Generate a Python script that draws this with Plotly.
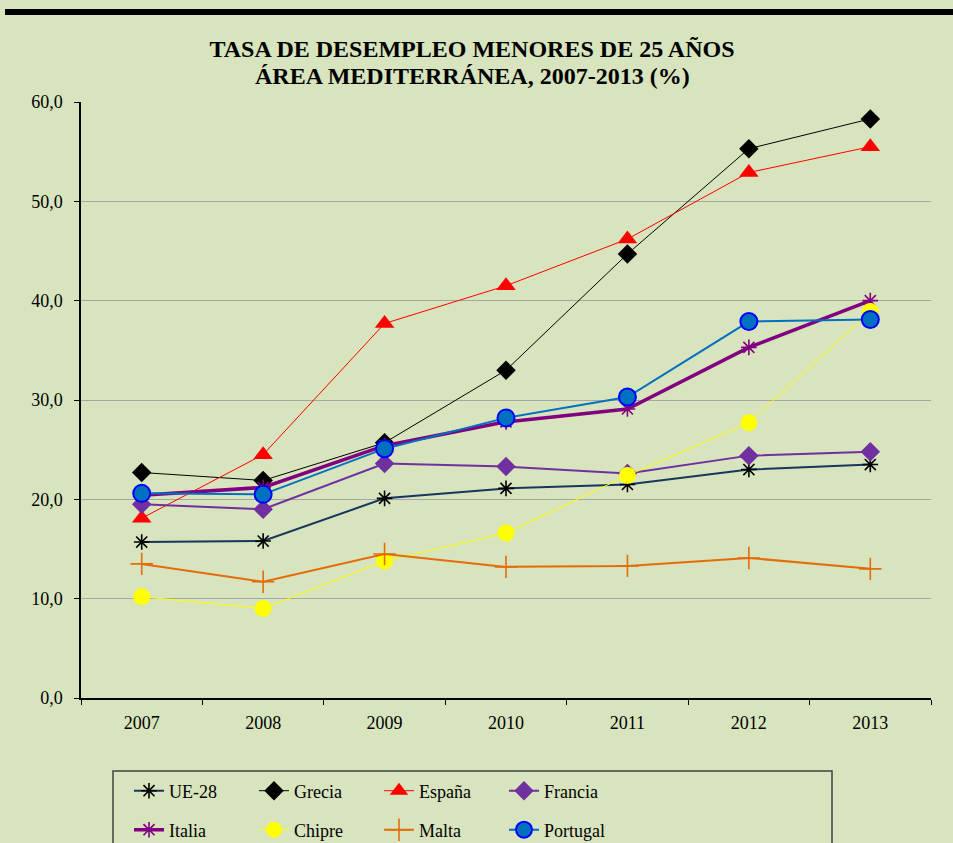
import plotly.graph_objects as go

years = ["2007", "2008", "2009", "2010", "2011", "2012", "2013"]
ue28 = [15.7, 15.8, 20.1, 21.1, 21.5, 23.0, 23.5]
grecia = [22.7, 21.9, 25.7, 33.0, 44.7, 55.3, 58.3]
espana = [18.1, 24.5, 37.7, 41.5, 46.2, 52.9, 55.5]
francia = [19.5, 19.0, 23.6, 23.3, 22.6, 24.4, 24.8]
italia = [20.4, 21.2, 25.4, 27.8, 29.1, 35.3, 40.0]
chipre = [10.2, 9.0, 13.8, 16.6, 22.4, 27.7, 38.9]
malta = [13.5, 11.7, 14.5, 13.2, 13.3, 14.1, 13.0]
portugal = [20.6, 20.5, 25.1, 28.2, 30.3, 37.9, 38.1]

title_line1 = "TASA DE DESEMPLEO MENORES DE 25 AÑOS"
title_line2 = "ÁREA MEDITERRÁNEA, 2007-2013 (%)"

BG = "#D7E4BD"
FONT = "Liberation Serif"

series = [
    ("UE-28", ue28, dict(color="#17375E", width=2), dict(symbol="asterisk-open", size=13, color="black", line=dict(color="black", width=1.6)), "legend"),
    ("Grecia", grecia, dict(color="black", width=1), dict(symbol="diamond", size=15, color="black", line=dict(width=0)), "legend"),
    ("España", espana, dict(color="#FF0000", width=1), dict(symbol="triangle-up", size=17, color="#FF0000", line=dict(width=0)), "legend"),
    ("Francia", francia, dict(color="#7030A0", width=2), dict(symbol="diamond", size=15, color="#7030A0", line=dict(width=0)), "legend"),
    ("Italia", italia, dict(color="#800080", width=3.5), dict(symbol="asterisk-open", size=13, color="#800080", line=dict(color="#800080", width=1.6)), "legend2"),
    ("Chipre", chipre, dict(color="#FFFF00", width=1), dict(symbol="circle", size=17, color="#FFFF00", line=dict(width=0)), "legend2"),
    ("Malta", malta, dict(color="#E46C0A", width=2), dict(symbol="cross-thin-open", size=16, color="#E46C0A", line=dict(color="#E46C0A", width=1.6)), "legend2"),
    ("Portugal", portugal, dict(color="#0070C0", width=2), dict(symbol="circle", size=17, color="#0070C0", line=dict(color="#0000FF", width=2)), "legend2"),
]

fig = go.Figure()
for name, vals, ln, mk, lg in series:
    fig.add_trace(go.Scatter(x=years, y=vals, name=name, mode="lines+markers",
                             line=ln, marker=mk, legend=lg))

legend_common = dict(orientation="h", bgcolor="rgba(0,0,0,0)", borderwidth=0,
                     font=dict(family=FONT, size=18, color="black"),
                     entrywidthmode="pixels", entrywidth=80,
                     xref="container", yref="container",
                     xanchor="left", yanchor="middle", traceorder="normal",
                     itemclick=False)

fig.update_layout(
    width=953, height=843,
    paper_bgcolor=BG, plot_bgcolor=BG,
    margin=dict(l=81, r=22, t=102, b=145),
    separators=",.",
    font=dict(family=FONT, size=18, color="black"),
    title=dict(text="<b>" + title_line1 + "</b>",
               x=472 / 953, xanchor="center", y=1 - 49 / 843, yanchor="middle",
               font=dict(family=FONT, size=24, color="black")),
    annotations=[dict(text="<b>" + title_line2 + "</b>", xref="paper", yref="paper",
                      x=(472 - 81) / 850, y=(698 - 75.5) / 596, xanchor="center", yanchor="middle",
                      showarrow=False, font=dict(family=FONT, size=24, color="black"))],
    xaxis=dict(type="category", range=[-0.5, 6.5], showgrid=False, zeroline=False,
               showline=True, linecolor="black", linewidth=1.5,
               ticks="outside", ticklen=5, tickcolor="black", tickson="boundaries",
               ticklabelstandoff=8),
    yaxis=dict(range=[0, 60], dtick=10, tickformat=".1f", showgrid=True,
               gridcolor="#A6A6A6", gridwidth=1, zeroline=False,
               showline=True, linecolor="black", linewidth=1.5,
               ticks="outside", ticklen=5, tickcolor="black", ticklabelstandoff=8),
    legend=dict(**legend_common, x=129 / 953, y=1 - 791 / 843),
    legend2=dict(**legend_common, x=129 / 953, y=1 - 830 / 843),
    showlegend=True,
    shapes=[
        dict(type="rect", xref="paper", yref="paper",
             x0=(5 - 81) / 850, x1=(960 - 81) / 850, y0=(698 - 15) / 596, y1=(698 - 9) / 596,
             fillcolor="black", line=dict(width=0), layer="above"),
        dict(type="rect", xref="paper", yref="paper",
             x0=(113 - 81) / 850, x1=(832 - 81) / 850, y0=(698 - 860) / 596, y1=(698 - 771) / 596,
             fillcolor="rgba(0,0,0,0)", line=dict(color="#404040", width=1.5), layer="above"),
    ],
)

fig.write_html("out.html", config={"displayModeBar": False},
               post_script="document.body.style.margin='0';document.body.style.overflow='hidden';"
                           "document.body.style.background='#D7E4BD';")
